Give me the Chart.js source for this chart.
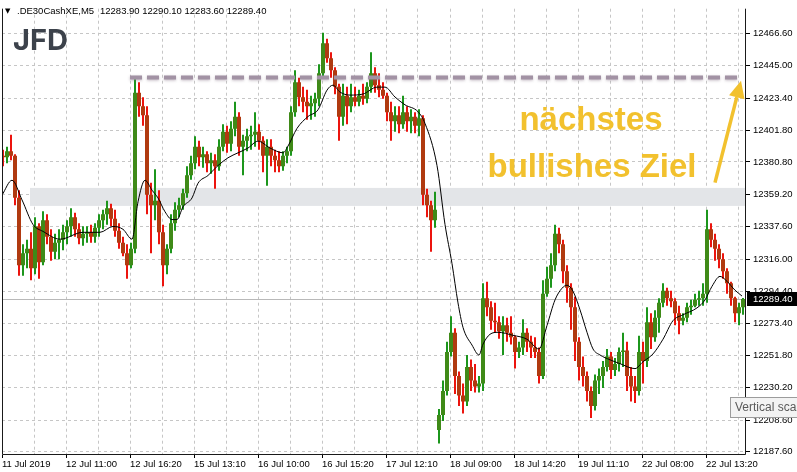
<!DOCTYPE html>
<html>
<head>
<meta charset="utf-8">
<script src="https://cdn.jsdelivr.net/npm/chart.js@4.4.1/dist/chart.umd.min.js"></script>
<style>
  html, body { margin: 0; padding: 0; background: #fff; }
  #wrap { width: 797px; height: 472px; }
</style>
</head>
<body>
<div id="wrap"><canvas id="chart" width="797" height="472"></canvas></div>
<script>
// DE30 M5, each candle here groups 4 bars (20 min)
const symbolName = '.DE30CashXE,M5';
const lastBarOHLC = ['12283.90', '12290.10', '12283.60', '12289.40'];
const lastPrice = 12289.40;

const opens = [
  12385, 12384, 12388, 12385, 12357, 12312, 12320, 12323, 12310, 12338,
  12314, 12342, 12331, 12321, 12327, 12329, 12334, 12338, 12344, 12336,
  12330, 12333, 12334, 12331, 12337, 12342, 12346, 12350, 12343, 12335,
  12327, 12320, 12312, 12323, 12427, 12418, 12412, 12359, 12352, 12355,
  12334, 12312, 12323, 12340, 12349, 12352, 12360, 12372, 12380, 12391,
  12384, 12386, 12380, 12382, 12378, 12391, 12401, 12393, 12403, 12411,
  12391, 12395, 12398, 12399, 12401, 12395, 12385, 12391, 12385, 12382,
  12378, 12385, 12388, 12414, 12434, 12424, 12421, 12418, 12420, 12423,
  12440, 12460, 12450, 12442, 12431, 12411, 12425, 12418, 12424, 12421,
  12425, 12423, 12431, 12440, 12432, 12429, 12425, 12414, 12408, 12412,
  12406, 12414, 12408, 12411, 12405, 12410, 12359, 12352, 12342, 12202,
  12212, 12228, 12254, 12267, 12238, 12225, 12221, 12244, 12235, 12231,
  12233, 12290, 12284, 12275, 12274, 12268, 12272, 12267, 12264, 12254,
  12257, 12267, 12261, 12257, 12254, 12238, 12293, 12303, 12312, 12333,
  12326, 12308, 12297, 12284, 12261, 12244, 12238, 12228, 12218, 12235,
  12238, 12244, 12251, 12242, 12246, 12254, 12255, 12238, 12231, 12228,
  12254, 12248, 12274, 12264, 12277, 12287, 12295, 12290, 12288, 12280,
  12275, 12277, 12284, 12285, 12289, 12290, 12293, 12336, 12329, 12323,
  12316, 12308, 12300, 12290, 12280, 12283.9
];
const highs = [
  12389, 12391, 12399, 12386, 12362, 12326, 12329, 12334, 12344, 12340,
  12348, 12346, 12336, 12333, 12336, 12339, 12342, 12350, 12347, 12340,
  12338, 12338, 12339, 12340, 12346, 12349, 12355, 12353, 12349, 12340,
  12331, 12326, 12327, 12436, 12434, 12424, 12418, 12367, 12376, 12362,
  12339, 12326, 12346, 12354, 12357, 12363, 12378, 12385, 12398, 12395,
  12391, 12388, 12387, 12386, 12396, 12406, 12405, 12408, 12421, 12414,
  12399, 12403, 12405, 12414, 12406, 12398, 12396, 12396, 12389, 12388,
  12388, 12391, 12418, 12442, 12437, 12431, 12429, 12425, 12427, 12446,
  12467, 12463, 12454, 12444, 12433, 12433, 12431, 12433, 12431, 12429,
  12433, 12434, 12454, 12444, 12440, 12434, 12427, 12421, 12418, 12418,
  12425, 12418, 12416, 12414, 12416, 12412, 12363, 12355, 12361, 12216,
  12235, 12261, 12278, 12270, 12241, 12233, 12252, 12249, 12246, 12238,
  12300, 12301, 12288, 12287, 12278, 12278, 12277, 12278, 12265, 12261,
  12276, 12270, 12265, 12264, 12257, 12302, 12311, 12320, 12339, 12337,
  12329, 12312, 12300, 12291, 12264, 12251, 12241, 12231, 12239, 12243,
  12248, 12256, 12254, 12250, 12257, 12267, 12261, 12244, 12238, 12265,
  12261, 12284, 12280, 12282, 12290, 12300, 12297, 12295, 12290, 12285,
  12280, 12287, 12289, 12293, 12295, 12300, 12349, 12340, 12333, 12326,
  12320, 12310, 12301, 12291, 12287, 12290.1
];
const lows = [
  12378, 12380, 12382, 12352, 12305, 12305, 12310, 12302, 12306, 12303,
  12312, 12326, 12315, 12316, 12316, 12322, 12326, 12331, 12331, 12326,
  12325, 12327, 12327, 12327, 12331, 12336, 12339, 12338, 12331, 12323,
  12318, 12303, 12310, 12320, 12411, 12405, 12346, 12320, 12342, 12326,
  12298, 12306, 12320, 12335, 12344, 12349, 12357, 12369, 12376, 12378,
  12377, 12374, 12373, 12363, 12375, 12388, 12387, 12388, 12398, 12385,
  12372, 12388, 12389, 12391, 12389, 12374, 12365, 12378, 12374, 12374,
  12375, 12380, 12385, 12411, 12418, 12414, 12409, 12409, 12411, 12418,
  12437, 12447, 12437, 12426, 12395, 12405, 12406, 12414, 12418, 12418,
  12419, 12420, 12427, 12427, 12424, 12423, 12408, 12395, 12401, 12400,
  12403, 12401, 12400, 12400, 12398, 12352, 12344, 12321, 12337, 12193,
  12208, 12225, 12251, 12226, 12218, 12213, 12218, 12228, 12227, 12227,
  12228, 12278, 12269, 12267, 12263, 12252, 12261, 12259, 12243, 12250,
  12252, 12254, 12250, 12250, 12233, 12236, 12291, 12297, 12308, 12320,
  12300, 12287, 12269, 12248, 12235, 12231, 12221, 12210, 12215, 12226,
  12230, 12241, 12236, 12238, 12241, 12244, 12228, 12221, 12220, 12225,
  12233, 12244, 12256, 12261, 12267, 12284, 12285, 12284, 12272, 12266,
  12272, 12274, 12279, 12284, 12285, 12285, 12287, 12324, 12315, 12310,
  12303, 12293, 12285, 12274, 12272, 12279
];
const closes = [
  12384, 12388, 12385, 12357, 12312, 12320, 12323, 12310, 12338, 12314,
  12342, 12331, 12321, 12327, 12329, 12334, 12338, 12344, 12336, 12330,
  12333, 12334, 12331, 12337, 12342, 12346, 12350, 12343, 12335, 12327,
  12320, 12312, 12323, 12427, 12418, 12412, 12359, 12352, 12355, 12334,
  12312, 12323, 12340, 12349, 12352, 12360, 12372, 12380, 12391, 12384,
  12386, 12380, 12382, 12378, 12391, 12401, 12393, 12403, 12411, 12391,
  12395, 12398, 12399, 12401, 12395, 12385, 12391, 12385, 12382, 12378,
  12385, 12388, 12414, 12434, 12424, 12421, 12418, 12420, 12423, 12440,
  12460, 12450, 12442, 12431, 12411, 12425, 12418, 12424, 12421, 12425,
  12423, 12431, 12440, 12432, 12429, 12425, 12414, 12408, 12412, 12406,
  12414, 12408, 12411, 12405, 12410, 12359, 12352, 12342, 12349, 12212,
  12228, 12254, 12267, 12238, 12225, 12221, 12244, 12235, 12231, 12233,
  12290, 12284, 12275, 12274, 12268, 12272, 12267, 12264, 12254, 12257,
  12267, 12261, 12257, 12254, 12238, 12293, 12303, 12312, 12333, 12326,
  12308, 12297, 12284, 12261, 12244, 12238, 12228, 12218, 12235, 12238,
  12244, 12251, 12242, 12246, 12254, 12255, 12238, 12231, 12228, 12254,
  12248, 12274, 12264, 12277, 12287, 12295, 12290, 12288, 12280, 12275,
  12277, 12284, 12285, 12289, 12290, 12293, 12336, 12329, 12323, 12316,
  12308, 12300, 12290, 12280, 12284, 12289.4
];

// moving average (x in M5 bars)
const maBars = [
  0, 10, 20, 31, 41, 58, 81, 98, 111, 121, 130, 136, 143, 150, 156, 163, 170, 175, 181, 190,
  196, 206, 216, 226, 236, 246, 256, 268, 281, 286, 295, 306, 316, 325, 331, 338, 348, 361, 375, 383,
  393, 403, 416, 423, 435, 443, 450, 456, 461, 470, 477, 481, 488, 496, 511, 525, 537, 545, 553, 560,
  565, 571, 578, 585, 591, 598, 608, 618, 633, 641, 651, 661, 671, 681, 695, 703, 710, 718, 725, 733, 740
];
const maValues = [
  12358.7, 12368.6, 12355.5, 12339.1, 12334.5, 12329.3, 12333.9, 12333.9, 12337.8, 12335.9,
  12329.3, 12354.2, 12368.6, 12362.0, 12356.8, 12347.6, 12342.4, 12342.4, 12350.9, 12356.8,
  12366.6, 12371.8, 12378.4, 12383.6, 12386.9, 12390.1, 12394.7, 12390.1, 12386.9, 12391.4,
  12403.2, 12411.1, 12415.6, 12428.7, 12432.0, 12427.4, 12425.4, 12426.1, 12430.7, 12430.7,
  12424.1, 12418.9, 12414.3, 12406.5, 12378.4, 12339.1, 12313.0, 12286.8, 12270.5, 12258.7,
  12252.1, 12259.3, 12265.9, 12267.2, 12265.2, 12262.6, 12256.1, 12271.8, 12288.8, 12296.6,
  12298.6, 12294.6, 12282.2, 12267.2, 12256.1, 12252.1, 12248.9, 12246.3, 12243.0, 12247.6,
  12252.8, 12262.6, 12275.0, 12278.9, 12283.5, 12288.8, 12297.9, 12304.5, 12301.2, 12295.3, 12291.4
];

const timeLabels = [
  '11 Jul 2019', '12 Jul 11:00', '12 Jul 16:20', '15 Jul 13:10', '16 Jul 10:00', '16 Jul 15:20',
  '17 Jul 12:10', '18 Jul 09:00', '18 Jul 14:20', '19 Jul 11:10', '22 Jul 08:00', '22 Jul 13:20'
];
const priceTicks = [
  12187.60, 12208.60, 12230.20, 12251.80, 12273.40, 12294.40, 12316.00,
  12337.60, 12359.20, 12380.80, 12401.80, 12423.40, 12445.00, 12466.60
];

// drawings on the chart
const targetLevel = 12437.2;
const zoneLow = 12351.5;
const zoneHigh = 12363.5;
const noteLines = ['nächstes', 'bullishes Ziel'];

const BARS_PER_CANDLE = 4;
const TOTAL_BARS = 744;
const LABEL_EVERY = 64;
const GRID_EVERY = 32;

const candleX = i => i * BARS_PER_CANDLE + 1;
const isUp = i => closes[i] >= opens[i];
const wickColor = i => isUp(i) ? '#1c961c' : '#ec140e';
const bodyColor = i => isUp(i) ? '#3f8a18' : '#b03a10';

const overlay = {
  id: 'overlay',
  beforeDatasetsDraw(chart) {
    const { ctx, chartArea: a, scales: { x, y } } = chart;
    ctx.save();
    ctx.beginPath();
    ctx.rect(a.left, a.top, a.width, a.height);
    ctx.clip();
    const zx = x.getPixelForValue(28);
    const zt = y.getPixelForValue(zoneHigh);
    const zb = y.getPixelForValue(zoneLow);
    ctx.fillStyle = '#e3e5e8';
    ctx.fillRect(zx, zt, a.right - zx, zb - zt);
    const py = Math.round(y.getPixelForValue(lastPrice)) + 0.5;
    ctx.strokeStyle = '#b9b9b9';
    ctx.lineWidth = 1;
    ctx.beginPath();
    ctx.moveTo(a.left, py);
    ctx.lineTo(a.right, py);
    ctx.stroke();
    ctx.restore();
  },
  afterDatasetsDraw(chart) {
    const { ctx, scales: { x, y } } = chart;
    ctx.save();
    // target level
    const ty = y.getPixelForValue(targetLevel);
    ctx.strokeStyle = '#a292a4';
    ctx.lineWidth = 4;
    ctx.setLineDash([12, 5]);
    ctx.shadowColor = 'rgba(120,100,120,0.45)';
    ctx.shadowBlur = 3;
    ctx.shadowOffsetY = 1;
    ctx.beginPath();
    ctx.moveTo(x.getPixelForValue(128), ty);
    ctx.lineTo(x.getPixelForValue(738), ty);
    ctx.stroke();
    ctx.setLineDash([]);
    ctx.shadowColor = 'transparent';

    // note
    ctx.fillStyle = '#f2c12e';
    ctx.font = 'bold 33px "Liberation Sans", Arial, sans-serif';
    ctx.textAlign = 'center';
    ctx.textBaseline = 'alphabetic';
    ctx.fillText(noteLines[0], x.getPixelForValue(589), y.getPixelForValue(12401.9));
    ctx.fillText(noteLines[1], x.getPixelForValue(590), y.getPixelForValue(12370.5));

    // arrow
    const x0 = x.getPixelForValue(713), y0 = y.getPixelForValue(12367);
    const x1 = x.getPixelForValue(739), y1 = y.getPixelForValue(12435);
    const ang = Math.atan2(y1 - y0, x1 - x0);
    const head = 17;
    const bx = x1 - Math.cos(ang) * head, by = y1 - Math.sin(ang) * head;
    ctx.strokeStyle = '#f2c12e';
    ctx.lineWidth = 3.5;
    ctx.beginPath();
    ctx.moveTo(x0, y0);
    ctx.lineTo(bx, by);
    ctx.stroke();
    ctx.beginPath();
    ctx.moveTo(x1, y1);
    ctx.lineTo(bx + Math.cos(ang + Math.PI / 2) * 8, by + Math.sin(ang + Math.PI / 2) * 8);
    ctx.lineTo(bx + Math.cos(ang - Math.PI / 2) * 8, by + Math.sin(ang - Math.PI / 2) * 8);
    ctx.closePath();
    ctx.fill();
    ctx.restore();
  },
  afterDraw(chart) {
    const { ctx, chartArea: a, scales: { y } } = chart;
    ctx.save();
    // frame
    ctx.strokeStyle = '#1a1a1a';
    ctx.lineWidth = 1;
    ctx.beginPath();
    ctx.moveTo(a.left + 0.5, a.top);
    ctx.lineTo(a.left + 0.5, a.bottom - 0.5);
    ctx.lineTo(a.right - 0.5, a.bottom - 0.5);
    ctx.lineTo(a.right - 0.5, a.top);
    ctx.stroke();

    // header
    ctx.fillStyle = '#000';
    ctx.textAlign = 'left';
    ctx.textBaseline = 'middle';
    ctx.font = '7px "DejaVu Sans", sans-serif';
    ctx.fillText('▼', 5, 11);
    ctx.font = '9.5px "Liberation Sans", Arial, sans-serif';
    ctx.fillText(symbolName, 17, 11);
    ctx.fillText(lastBarOHLC.join(' '), 100, 11);

    // logo
    ctx.fillStyle = '#3c424b';
    ctx.font = 'bold 29px Inter, "Liberation Sans", sans-serif';
    ctx.textBaseline = 'alphabetic';
    ctx.fillText('JFD', 13, 50);

    // last price marker
    const py = Math.round(y.getPixelForValue(lastPrice));
    ctx.fillStyle = '#000';
    ctx.fillRect(a.right + 1, py - 7, 60, 14);
    ctx.fillStyle = '#fff';
    ctx.font = '9.5px "Liberation Sans", Arial, sans-serif';
    ctx.textBaseline = 'middle';
    ctx.fillText(lastPrice.toFixed(2), 753, py);

    // hover hint
    ctx.fillStyle = '#f3f3f3';
    ctx.fillRect(730.5, 397.5, 80, 20);
    ctx.strokeStyle = '#9c9c9c';
    ctx.strokeRect(730.5, 397.5, 80, 20);
    ctx.fillStyle = '#5a5a5a';
    ctx.font = '12px "Liberation Sans", Arial, sans-serif';
    ctx.fillText('Vertical scale', 735, 408);
    ctx.restore();
  }
};

new Chart(document.getElementById('chart'), {
  type: 'bar',
  data: {
    datasets: [
      {
        type: 'line',
        label: 'MA',
        order: 0,
        data: maBars.map((b, i) => ({ x: b, y: maValues[i] })),
        borderColor: '#000',
        borderWidth: 1,
        pointRadius: 0,
        cubicInterpolationMode: 'monotone',
        fill: false
      },
      {
        label: 'body',
        order: 1,
        data: opens.map((o, i) => ({ x: candleX(i), y: [o, closes[i]] })),
        backgroundColor: opens.map((o, i) => bodyColor(i)),
        barThickness: 4,
        minBarLength: 1,
        borderWidth: 0,
        inflateAmount: 0,
        grouped: false
      },
      {
        label: 'wick',
        order: 2,
        data: lows.map((l, i) => ({ x: candleX(i), y: [l, highs[i]] })),
        backgroundColor: lows.map((l, i) => wickColor(i)),
        barThickness: 2,
        borderWidth: 0,
        inflateAmount: 0,
        grouped: false
      }
    ]
  },
  options: {
    responsive: false,
    animation: false,
    devicePixelRatio: 1,
    layout: { padding: { left: 2, top: 0, right: 0, bottom: 0 } },
    plugins: { legend: { display: false }, tooltip: { enabled: false } },
    scales: {
      x: {
        type: 'linear',
        min: 0,
        max: TOTAL_BARS,
        offset: false,
        afterBuildTicks: s => {
          const t = [];
          for (let v = 0; v < TOTAL_BARS; v += GRID_EVERY) t.push({ value: v });
          s.ticks = t;
        },
        afterFit: s => { s.height = 17; },
        grid: {
          offset: false,
          color: '#c6c6c6',
          tickLength: 3,
          tickColor: c => (c.tick && c.tick.value % LABEL_EVERY === 0) ? '#000' : 'rgba(0,0,0,0)',
          tickBorderDash: []
        },
        border: { display: false, dash: [3, 3] },
        ticks: {
          autoSkip: false,
          maxRotation: 0,
          align: 'start',
          padding: 1,
          color: '#000',
          font: { family: '"Liberation Sans", Arial, sans-serif', size: 9.5 },
          callback: v => v % LABEL_EVERY === 0 ? timeLabels[v / LABEL_EVERY] : ''
        }
      },
      y: {
        type: 'linear',
        position: 'right',
        min: 12185.4,
        max: 12483.0,
        afterBuildTicks: s => { s.ticks = priceTicks.map(v => ({ value: v })); },
        afterFit: s => { s.width = 51; },
        grid: {
          color: '#c6c6c6',
          tickLength: 4,
          tickColor: '#000',
          tickBorderDash: []
        },
        border: { display: false, dash: [3, 3] },
        ticks: {
          padding: 3,
          color: '#000',
          font: { family: '"Liberation Sans", Arial, sans-serif', size: 9.5 },
          callback: v => v.toFixed(2)
        }
      }
    }
  },
  plugins: [overlay]
});
</script>
</body>
</html>
